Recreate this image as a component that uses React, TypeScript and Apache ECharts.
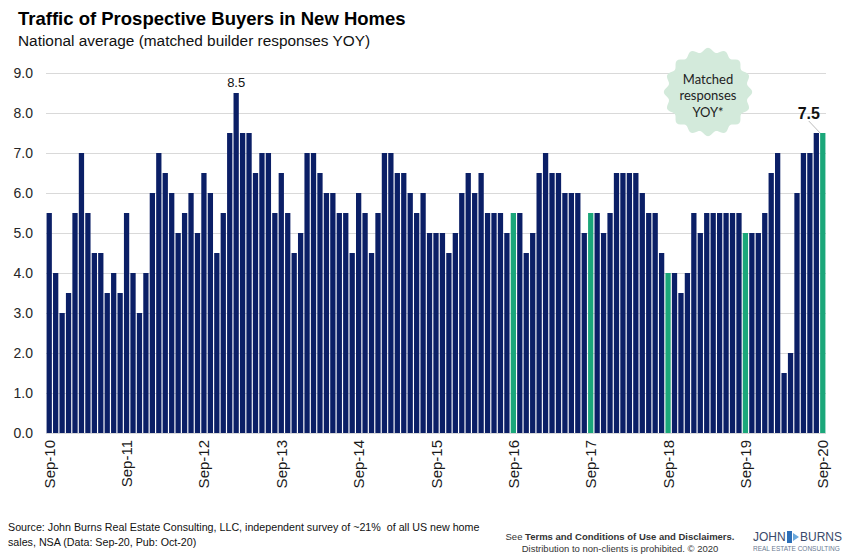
import React, { useEffect, useRef } from "react";
import * as echarts from "echarts";

const MONTH_NAMES = ["Jan", "Feb", "Mar", "Apr", "May", "Jun", "Jul", "Aug", "Sep", "Oct", "Nov", "Dec"];

// Sep-10 .. Sep-20 monthly categories
const categories: string[] = [];
for (let i = 0; i < 121; i++) {
  const mIdx = (8 + i) % 12;
  const yr = 10 + Math.floor((8 + i) / 12);
  categories.push(`${MONTH_NAMES[mIdx]}-${yr}`);
}

const traffic: number[] = [
  5.5, 4.0, 3.0, 3.5, 5.5, 7.0, 5.5, 4.5, 4.5, 3.5, 4.0, 3.5,
  5.5, 4.0, 3.0, 4.0, 6.0, 7.0, 6.5, 6.0, 5.0, 5.5, 6.0, 5.0,
  6.5, 6.0, 4.5, 5.5, 7.5, 8.5, 7.5, 7.5, 6.5, 7.0, 7.0, 5.5,
  6.5, 5.5, 4.5, 5.0, 7.0, 7.0, 6.5, 6.0, 6.0, 5.5, 5.5, 4.5,
  6.0, 5.5, 4.5, 5.5, 7.0, 7.0, 6.5, 6.5, 6.0, 5.5, 6.0, 5.0,
  5.0, 5.0, 4.5, 5.0, 6.0, 6.5, 6.0, 6.5, 5.5, 5.5, 5.5, 5.0,
  5.5, 5.5, 4.5, 5.0, 6.5, 7.0, 6.5, 6.5, 6.0, 6.0, 6.0, 5.0,
  5.5, 5.5, 5.0, 5.5, 6.5, 6.5, 6.5, 6.5, 6.0, 5.5, 5.5, 4.5,
  4.0, 4.0, 3.5, 4.0, 5.5, 5.0, 5.5, 5.5, 5.5, 5.5, 5.5, 5.5,
  5.0, 5.0, 5.0, 5.5, 6.5, 7.0, 1.5, 2.0, 6.0, 7.0, 7.0, 7.5, 7.5,
];

const highlightedMonths: string[] = ["Sep-16", "Sep-17", "Sep-18", "Sep-19", "Sep-20"];
const peakMonth = "Feb-13";
const latestMonth = "Sep-20";
const yTicks: number[] = [0, 1, 2, 3, 4, 5, 6, 7, 8, 9];

const NAVY = "#0b1f66";
const GREEN = "#1ba77a";
const FONT = "'Liberation Sans', Arial, sans-serif";
const NARROW = "'Liberation Sans Narrow', 'Arial Narrow', 'Liberation Sans', sans-serif";

function badgePoints(cx: number, cy: number): number[][] {
  const pts: number[][] = [];
  const n = 160;
  for (let i = 0; i < n; i++) {
    const t = (i / n) * Math.PI * 2;
    const r = 42 + 2.2 * Math.cos(16 * t);
    pts.push([cx + r * Math.cos(t), cy + r * Math.sin(t)]);
  }
  return pts;
}

export default function App() {
  const ref = useRef<HTMLDivElement>(null);
  useEffect(() => {
    if (!ref.current) return;
    const chart = echarts.init(ref.current, null, { renderer: "svg" });
    const latestIdx = categories.indexOf(latestMonth);
    const data = traffic.map((v, i) => {
      const cat = categories[i];
      const item: any = {
        value: v,
        itemStyle: { color: highlightedMonths.includes(cat) ? GREEN : NAVY },
      };
      if (cat === peakMonth) {
        item.label = {
          show: true,
          position: "top",
          distance: 4,
          fontSize: 13,
          color: "#111",
          fontFamily: FONT,
          formatter: (p: any) => p.value.toFixed(1),
        };
      }
      if (cat === latestMonth) {
        item.label = {
          show: true,
          position: "top",
          fontSize: 16,
          fontWeight: "bold",
          color: "#111",
          fontFamily: FONT,
          formatter: (p: any) => p.value.toFixed(1),
        };
        item.labelLine = { show: true, lineStyle: { color: "#aaa", width: 0.8 } };
      }
      return item;
    });

    chart.setOption({
      animation: false,
      backgroundColor: "#fff",
      grid: { left: 46, right: 21, top: 73, bottom: 125, containLabel: false },
      xAxis: {
        type: "category",
        data: categories,
        boundaryGap: true,
        axisLine: { show: false },
        axisTick: { show: false },
        axisLabel: {
          interval: (_i: number, val: string) => val.startsWith("Sep"),
          rotate: 90,
          fontSize: 15,
          color: "#1a1a1a",
          fontFamily: FONT,
          margin: 7,
        },
      },
      yAxis: {
        type: "value",
        min: yTicks[0],
        max: yTicks[yTicks.length - 1],
        interval: 1,
        axisLine: { show: false },
        axisTick: { show: false },
        splitLine: { lineStyle: { color: "#d9d9d9", width: 1 } },
        axisLabel: {
          formatter: (v: number) => v.toFixed(1),
          fontSize: 14,
          color: "#262626",
          fontFamily: FONT,
          margin: 13,
        },
      },
      series: [
        {
          type: "bar",
          data,
          barCategoryGap: "18%",
          labelLayout: (p: any) =>
            p.dataIndex === latestIdx ? { dx: -14, dy: -7 } : {},
        },
      ],
      graphic: [
        {
          type: "text",
          left: 18,
          top: 9,
          style: {
            text: "Traffic of Prospective Buyers in New Homes",
            font: `bold 18.5px ${FONT}`,
            fill: "#000",
          },
        },
        {
          type: "text",
          left: 18,
          top: 33,
          style: {
            text: "National average (matched builder responses YOY)",
            font: `15.4px ${FONT}`,
            fill: "#111",
          },
        },
        {
          type: "polygon",
          shape: { points: badgePoints(708, 92) },
          style: { fill: "#d3eadb" },
          z: 10,
        },
        {
          type: "text",
          x: 708,
          y: 95,
          z: 11,
          style: {
            text: "Matched\nresponses\nYOY*",
            font: `13px Lato, ${FONT}`,
            fill: "#222",
            align: "center",
            verticalAlign: "middle",
            lineHeight: 16.5,
          },
        },
        {
          type: "text",
          left: 8,
          top: 519,
          style: {
            text: "Source: John Burns Real Estate Consulting, LLC, independent survey of ~21%  of all US new home\nsales, NSA (Data: Sep-20, Pub: Oct-20)",
            font: `10.7px ${FONT}`,
            fill: "#111",
            lineHeight: 15,
          },
        },
        {
          type: "text",
          x: 620,
          y: 530,
          style: {
            text: "See {b|Terms and Conditions of Use and Disclaimers.}\nDistribution to non-clients is prohibited. © 2020",
            font: `9.5px ${NARROW}`,
            fill: "#333",
            align: "center",
            lineHeight: 12,
            rich: {
              b: { font: `bold 9.5px ${NARROW}`, fill: "#333" },
            },
          },
        },
        {
          type: "text",
          x: 753,
          y: 531,
          style: { text: "JOHN", font: `12px ${NARROW}`, fill: "#3a4a6b" },
        },
        { type: "rect", shape: { x: 787, y: 531, width: 5, height: 12 }, style: { fill: "#2d6fb7" } },
        { type: "polygon", shape: { points: [[793, 533], [799, 537], [793, 541]] }, style: { fill: "#6aa8dc" } },
        {
          type: "text",
          x: 800,
          y: 531,
          style: { text: "BURNS", font: `12px ${NARROW}`, fill: "#3a4a6b" },
        },
        {
          type: "text",
          x: 753,
          y: 545,
          style: { text: "REAL ESTATE CONSULTING", font: `6.5px ${FONT}`, fill: "#6a7a92" },
        },
      ],
    });
    return () => chart.dispose();
  }, []);
  return (
    <div
      ref={ref}
      style={{ position: "fixed", left: 0, top: 0, width: 847, height: 558, background: "#fff" }}
    />
  );
}
